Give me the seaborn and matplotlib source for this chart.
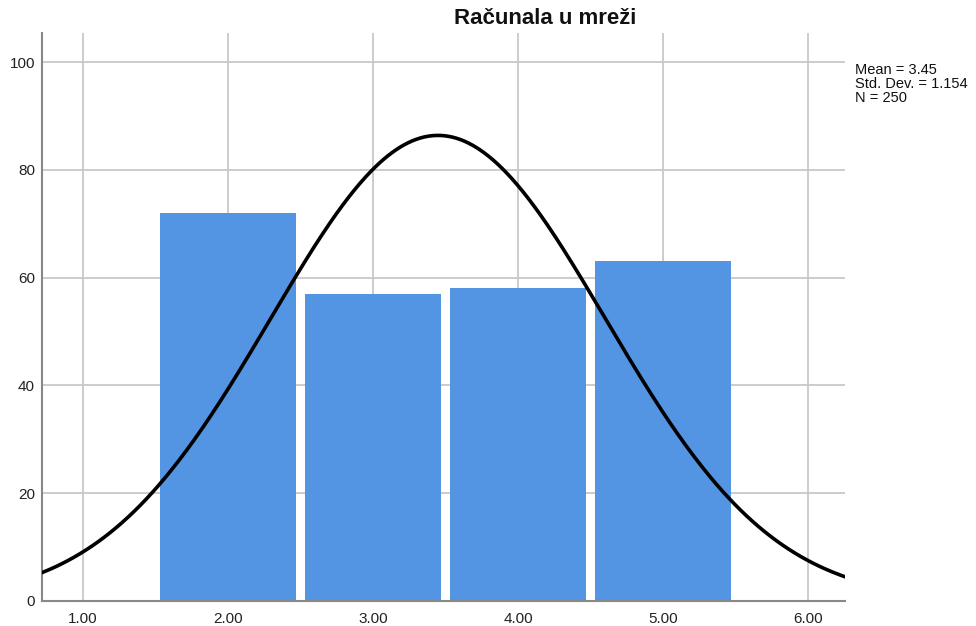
import numpy as np
import pandas as pd
import matplotlib
matplotlib.use("Agg")
import matplotlib.pyplot as plt
import seaborn as sns

# Data
categories = [2.0, 3.0, 4.0, 5.0]
counts = [72, 57, 58, 63]
bin_edges = [1.5, 2.5, 3.5, 4.5, 5.5]
x_ticks = [1.0, 2.0, 3.0, 4.0, 5.0, 6.0]
x_tick_labels = ["1.00", "2.00", "3.00", "4.00", "5.00", "6.00"]
y_ticks = [0, 20, 40, 60, 80, 100]
title = "Računala u mreži"

sns.set_theme(style="white")
plt.rcParams['font.family'] = ['Liberation Sans', 'DejaVu Sans']

df = pd.DataFrame({"value": categories, "count": counts})
n = int(np.sum(counts))
mean = float(np.sum(np.array(categories) * np.array(counts)) / n)
sd = float(np.sqrt(np.sum(np.array(counts) * (np.array(categories) - mean) ** 2) / (n - 1)))

fig = plt.figure(figsize=(9.76, 6.26), dpi=100)
ax = fig.add_axes([42 / 976, 25 / 626, (845 - 42) / 976, (601 - 33) / 626])

grid_c = "#c8c8c8"
for yt in y_ticks:
    ax.axhline(yt, color=grid_c, lw=1.3, zorder=0)
for xt in x_ticks:
    ax.axvline(xt, color=grid_c, lw=1.3, zorder=0)

sns.histplot(data=df, x="value", weights="count", bins=bin_edges, shrink=0.94,
             color="#5394e3", alpha=1.0, edgecolor="none", linewidth=0, ax=ax, zorder=2)

xlim = (0.717, 6.255)
xs = np.linspace(xlim[0], xlim[1], 400)
binw = 1.0
ys = n * binw / (sd * np.sqrt(2 * np.pi)) * np.exp(-0.5 * ((xs - mean) / sd) ** 2)
sns.lineplot(x=xs, y=ys, color="black", lw=2.6, ax=ax, zorder=3)

ax.set_xlim(*xlim)
ax.set_ylim(0, 105.4)
ax.set_xticks(x_ticks)
ax.set_xticklabels(x_tick_labels)
ax.set_yticks(y_ticks)
ax.set_xlabel("")
ax.set_ylabel("")
ax.tick_params(axis="both", labelsize=11, colors="#222222", length=0, pad=8)
ax.tick_params(axis="y", pad=5)
for s in ["top", "right"]:
    ax.spines[s].set_visible(False)
for s in ["left", "bottom"]:
    ax.spines[s].set_color("#888888")
    ax.spines[s].set_linewidth(1.5)

fig.text(545 / 976, 1 - 18 / 626, title, ha="center", va="center",
         fontsize=16, fontweight="bold", color="#111111")
fig.text(855 / 976, 1 - 63 / 626,
         f"Mean = {mean:.2f}\nStd. Dev. = {sd:.3f}\nN = {n}",
         ha="left", va="top", fontsize=10.5, color="#111111", linespacing=1.0)

fig.savefig("out.png", dpi=100, facecolor="white")
